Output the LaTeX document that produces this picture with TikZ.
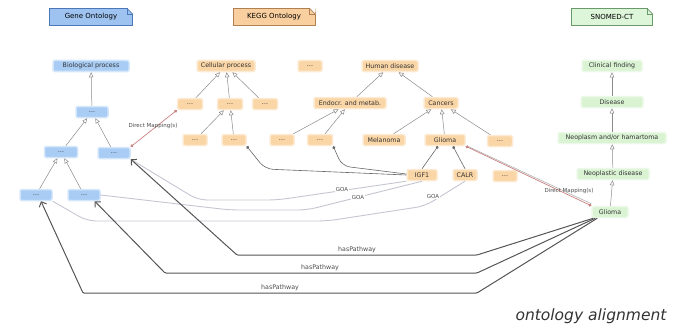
\documentclass[tikz,border=0pt]{standalone}
\usepackage{fontspec}
\setmainfont{DejaVu Sans}
\usetikzlibrary{arrows.meta}
\definecolor{gofill}{HTML}{A9CCF4}
\definecolor{kgfill}{HTML}{FAD5A5}
\definecolor{snfill}{HTML}{D9F3D3}
\definecolor{gohdr}{HTML}{9EC3F0}
\definecolor{kghdr}{HTML}{F9CFA0}
\definecolor{snhdr}{HTML}{DDF5D8}
\definecolor{gobrd}{HTML}{4A78B8}
\definecolor{kgbrd}{HTML}{B08050}
\definecolor{snbrd}{HTML}{6A9A6A}
\definecolor{hier}{HTML}{8A8A8A}
\definecolor{golink}{HTML}{C4C6D2}
\definecolor{pathw}{HTML}{555555}
\definecolor{dmap}{HTML}{C98080}
\tikzset{
  base/.style={rectangle, rounded corners=2pt, line width=1.5pt, font=\fontsize{6.3}{7}\selectfont, inner sep=1pt, minimum height=11pt, text=black!80},
  gon/.style={base, fill=gofill, draw=gofill!50},
  kgn/.style={base, fill=kgfill, draw=kgfill!50},
  snn/.style={base, fill=snfill, draw=snfill!50},
  hdr/.style={rectangle, font=\fontsize{7}{8}\selectfont, inner sep=1pt, minimum height=17pt, line width=0.6pt},
  isa/.style={draw=hier, line width=0.5pt, -{Triangle[open, length=5pt, width=4.5pt]}},
  gol/.style={draw=golink, line width=0.9pt, rounded corners=9pt},
  hp/.style={draw=pathw, line width=1pt, rounded corners=1pt, -{Straight Barb[length=4pt]}},
  dm/.style={draw=dmap, line width=0.7pt, {Circle[length=3pt]}-{Circle[length=3pt]}},
  lnk/.style={draw=black!60, line width=0.6pt, -{Circle[length=3pt]}, rounded corners=8pt},
  lbl/.style={font=\fontsize{5.5}{6}\selectfont, text=black!70, inner sep=0.5pt},
  hpl/.style={font=\fontsize{6.3}{7}\selectfont, text=black!70, inner sep=0.5pt}
}
\begin{document}
\begin{tikzpicture}[x=1pt,y=-1pt]
\useasboundingbox (0,0) rectangle (677,329);

% headers
\node[hdr, fill=gohdr, draw=gobrd, minimum width=83pt] (hgo) at (91,17) {Gene Ontology};
\node[hdr, fill=kghdr, draw=kgbrd, minimum width=82pt] (hkg) at (274,17) {KEGG Ontology};
\node[hdr, fill=snhdr, draw=snbrd, minimum width=81pt] (hsn) at (612,17) {SNOMED-CT};
\foreach \h/\c in {hgo/gobrd, hkg/kgbrd, hsn/snbrd}{
  \fill[white] ([xshift=-6pt]\h.north east) -- ([xshift=0.5pt,yshift=0.5pt]\h.north east) -- ([yshift=-6pt]\h.north east) -- cycle;
  \draw[\c, line width=0.6pt] ([xshift=-6pt]\h.north east) -- ([xshift=-6pt,yshift=-6pt]\h.north east) -- ([yshift=-6pt]\h.north east);
  \draw[\c, line width=0.6pt] ([xshift=-6pt]\h.north east) -- ([yshift=-6pt]\h.north east);
}

% GO nodes
\node[gon, minimum width=76pt] (bp) at (91,66) {Biological process};
\node[gon, minimum width=32pt] (g1) at (92,112) {\dots};
\node[gon, minimum width=33pt] (g2) at (61,152) {\dots};
\node[gon, minimum width=32pt] (g3) at (114,153) {\dots};
\node[gon, minimum width=32pt] (g4) at (36,195) {\dots};
\node[gon, minimum width=32pt] (g5) at (84,195) {\dots};

% KEGG nodes
\node[kgn, minimum width=58pt] (cp) at (226,66) {Cellular process};
\node[kgn, minimum width=24pt] (k0) at (310,66) {\dots};
\node[kgn, minimum width=56pt] (hd) at (390,66) {Human disease};
\node[kgn, minimum width=25pt] (k21) at (190,104) {\dots};
\node[kgn, minimum width=25pt] (k22) at (230,104) {\dots};
\node[kgn, minimum width=25pt] (k23) at (265,104) {\dots};
\node[kgn, minimum width=72pt] (endo) at (350,103) {Endocr. and metab.};
\node[kgn, minimum width=34pt] (canc) at (441,103) {Cancers};
\node[kgn, minimum width=24pt] (k31) at (195,140) {\dots};
\node[kgn, minimum width=24pt] (k32) at (234,140) {\dots};
\node[kgn, minimum width=24pt] (k33) at (282,140) {\dots};
\node[kgn, minimum width=25pt] (k34) at (320,140) {\dots};
\node[kgn, minimum width=42pt] (mel) at (384,140) {Melanoma};
\node[kgn, minimum width=40pt] (kgl) at (445,140) {Glioma};
\node[kgn, minimum width=25pt] (k37) at (500,141) {\dots};
\node[kgn, minimum width=30pt] (igf) at (422,175) {IGF1};
\node[kgn, minimum width=24pt] (calr) at (465,175) {CALR};
\node[kgn, minimum width=24pt] (k38) at (505,176) {\dots};

% SNOMED nodes
\node[snn, minimum width=60pt] (cf) at (612,66) {Clinical finding};
\node[snn, minimum width=62pt] (dis) at (612,102) {Disease};
\node[snn, minimum width=108pt] (neo) at (612,138) {Neoplasm and/or hamartoma};
\node[snn, minimum width=72pt] (nd) at (613,174) {Neoplastic disease};
\node[snn, minimum width=36pt] (gl) at (610,212) {Glioma};

% is-a hierarchy
\draw[isa] (g1) -- (bp);
\draw[isa] (g2) -- (g1);
\draw[isa] (g3) -- (g1);
\draw[isa] (g4) -- (g2);
\draw[isa] (g5) -- (g2);
\draw[isa] (k21) -- (cp);
\draw[isa] (k22) -- (cp);
\draw[isa] (k23) -- (cp);
\draw[isa] (k31) -- (k22);
\draw[isa] (k32) -- (k22);
\draw[isa] (k33) -- (endo);
\draw[isa] (k34) -- (endo);
\draw[isa] (endo) -- (hd);
\draw[isa] (canc) -- (hd);
\draw[isa] (mel) -- (canc);
\draw[isa] (kgl) -- (canc);
\draw[isa] (k37) -- (canc);
\draw[isa] (gl) -- (nd);
\draw[isa] (nd) -- (neo);
\draw[isa] (neo) -- (dis);
\draw[isa] (dis) -- (cf);

% GO annotation links
\draw[gol] (g3.south east) -- (198,200) -- (277,200) -- (igf.south west);
\draw[gol] (g5.east) -- (230,210) -- (307,210) -- (igf.south);
\draw[gol] (g4.south east) -- (87,221) -- (327,221) -- (425,206) -- (calr.south);
\node[lbl, fill=white] (goa1) at (342,189) {GOA};
\node[lbl, fill=white] (goa2) at (358,197) {GOA};
\node[lbl, fill=white] (goa3) at (433,196) {GOA};

% gene links in KEGG
\draw[lnk] (igf.west) -- (265,169) -- (k32.south east);
\draw[lnk] ([yshift=1pt]igf.west) -- (342,166) -- (k34.south east);
\draw[lnk] (igf.north) -- ([xshift=-7pt]kgl.south);
\draw[lnk] (calr.north) -- ([xshift=8pt]kgl.south);

% direct mappings
\draw[dm] (k21.south west) -- (g3.north east);
\node[lbl] (dml1) at (153,126) {Direct Mapping(s)};
\draw[black!30, line width=0.6pt] ([yshift=2pt]gl.north west) -- ([xshift=2pt]kgl.south east);
\draw[dm] (gl.north west) -- (kgl.south east);
\node[lbl] (dml2) at (569,191) {Direct Mapping(s)};

% hasPathway
\draw[hp] ([xshift=2pt]gl.south west) -- (477,255) -- (237,255) -- (g3.south east);
\draw[hp] ([xshift=4pt]gl.south west) -- (477,273) -- (165,273) -- ([xshift=-6pt]g5.south east);
\draw[hp] ([xshift=6pt]gl.south west) -- (477,293) -- (83,293) -- ([xshift=5pt]g4.south);
\node[hpl] (hp1) at (357,250) {hasPathway};
\node[hpl] (hp2) at (320,268) {hasPathway};
\node[hpl] (hp3) at (280,288) {hasPathway};

\node[font=\fontsize{15.5}{18}\selectfont\itshape, text=black!80] (title) at (591,316) {ontology alignment};
\end{tikzpicture}
\end{document}
